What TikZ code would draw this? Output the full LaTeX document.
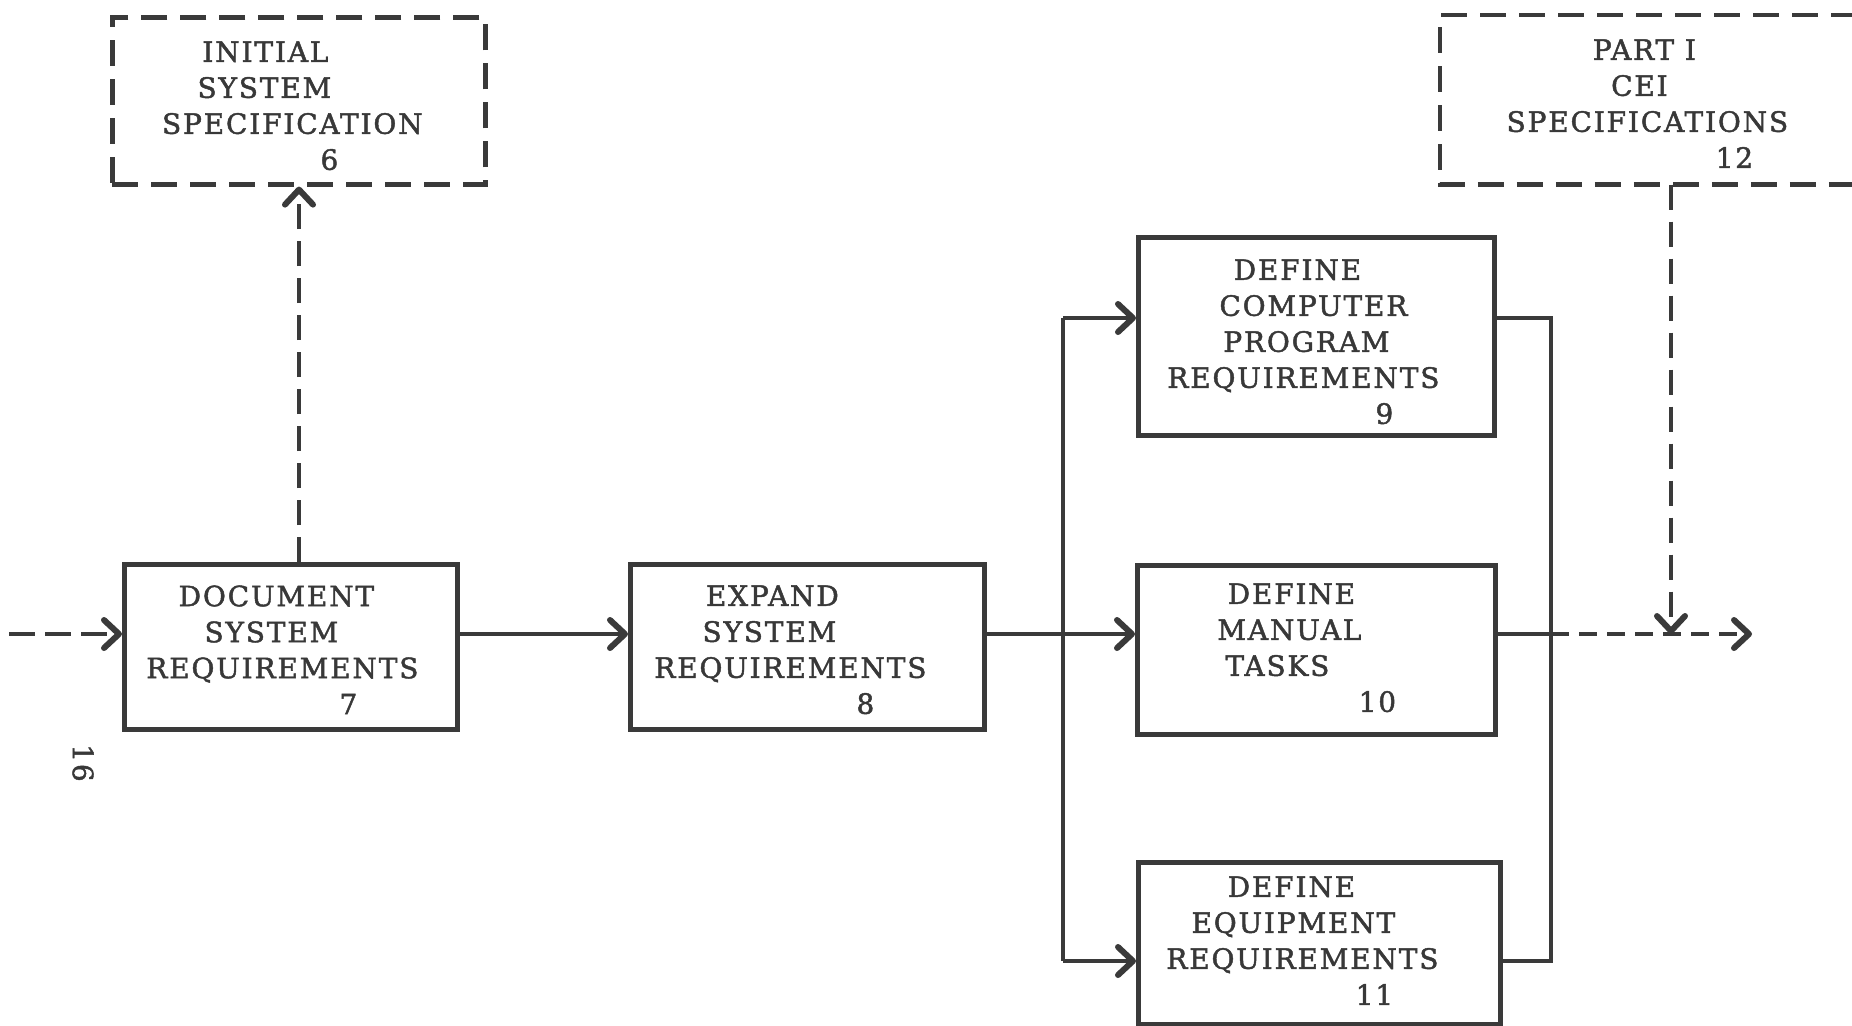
\documentclass[tikz,border=0pt]{standalone}
\usepackage{fontspec}
\setmainfont{DejaVu Serif}[LetterSpace=6.5, FakeBold=1.6]
\usetikzlibrary{arrows.meta}
\definecolor{ink}{HTML}{3A3A3A}
\definecolor{typeink}{HTML}{383838}
% a word centred at a given distance (pt) from the left edge of its text block
\newcommand{\wordat}[2]{\hspace*{#1pt}\makebox[0pt]{#2}}

\begin{document}
\begin{tikzpicture}[x=0.5pt,y=-0.5pt,
  solidbox/.style={draw=ink, line width=2.3pt, rectangle, inner sep=0pt, anchor=north west},
  dashbox/.style={solidbox, dash pattern=on 13pt off 6.5pt},
  boxtext/.style={text=typeink, inner sep=0pt, anchor=north west, align=left,
                  font=\fontsize{14}{18}\selectfont},
  barb/.style={-{Straight Barb[length=7.5pt,width=14pt,line width=3pt,round]}},
  link/.style={draw=ink, line width=2.3pt},
  linkarrow/.style={link, barb},
  dashlink/.style={link, barb, dash pattern=on 12.5pt off 6pt},
  finelink/.style={link, barb, dash pattern=on 9pt off 5pt},
]
\useasboundingbox (0,0) rectangle (1852,1025);
\fill[white] (0,0) rectangle (1852,1025);

% ---- boxes ----
\node[dashbox, minimum width=186.5pt, minimum height=83.5pt] (b6) at (110,15) {};
\node[solidbox, draw=none, minimum width=206pt, minimum height=82.5pt] (b12) at (1440,15) {};
\draw[ink, line width=2.3pt, dash pattern=on 13pt off 6.5pt]
  (b12.north east) -- (b12.north west) -- (b12.south west) -- (b12.south east);
\node[solidbox, minimum width=166.5pt, minimum height=82.5pt] (b7) at (122,562) {};
\node[solidbox, minimum width=177pt, minimum height=82.5pt] (b8) at (628,562) {};
\node[solidbox, minimum width=178pt, minimum height=99pt] (b9) at (1136,235) {};
\node[solidbox, minimum width=179pt, minimum height=84.5pt] (b10) at (1135,563) {};
\node[solidbox, minimum width=181pt, minimum height=81pt] (b11) at (1136,860) {};

% ---- box texts ----
\node[boxtext] (t6) at (110,41)
  {\wordat{77.5}{INITIAL}\\\wordat{77}{SYSTEM}\\\wordat{91}{SPECIFICATION}\\\wordat{109.5}{6}};
\node[boxtext] (t12) at (1440,39)
  {\wordat{102}{PART I}\\\wordat{99.5}{CEI}\\\wordat{103.5}{SPECIFICATIONS}\\\wordat{147}{12}};
\node[boxtext] (t7) at (122,585)
  {\wordat{77}{DOCUMENT}\\\wordat{74.5}{SYSTEM}\\\wordat{80}{REQUIREMENTS}\\\wordat{113}{7}};
\node[boxtext] (t8) at (628,585)
  {\wordat{72}{EXPAND}\\\wordat{70.5}{SYSTEM}\\\wordat{81}{REQUIREMENTS}\\\wordat{118.5}{8}};
\node[boxtext] (t9) at (1136,259)
  {\wordat{80.5}{DEFINE}\\\wordat{88.5}{COMPUTER}\\\wordat{85}{PROGRAM}\\\wordat{83.5}{REQUIREMENTS}\\\wordat{124}{9}};
\node[boxtext] (t10) at (1135,583)
  {\wordat{78}{DEFINE}\\\wordat{77}{MANUAL}\\\wordat{71}{TASKS}\\\wordat{121}{10}};
\node[boxtext] (t11) at (1136,876)
  {\wordat{77.5}{DEFINE}\\\wordat{78.5}{EQUIPMENT}\\\wordat{83}{REQUIREMENTS}\\\wordat{119}{11}};

% page number
\node[text=typeink, inner sep=0pt, rotate=-90, font=\fontsize{14}{18}\selectfont] (pg) at (83,763) {16};

% ---- connection points ----
\coordinate (in) at (9,634);
\coordinate (jl) at (1063,634);
\coordinate (jr) at (1551,634);
\coordinate (out) at (1752,634);
\coordinate (r9) at (1300,318);
\coordinate (r11) at (1300,961);
\coordinate (up) at (299,0);
\coordinate (drop) at (1671,634);

% ---- main flow ----
\draw[link, barb, dash pattern=on 13pt off 5pt] (in) -- (in -| b7.west);
\draw[linkarrow] (b7.east |- in) -- (b8.west |- in);
\draw[linkarrow] (b8.east |- in) -- (b10.west |- in);

% fan-out to the three parallel tasks
\draw[link] (jl |- r9) -- (jl |- r11);
\draw[linkarrow] (jl |- r9) -- (b9.west |- r9);
\draw[linkarrow] (jl |- r11) -- (b11.west |- r11);

% fan-in
\draw[link, line join=miter] (b9.east |- r9) -- (jr |- r9) -- (jr |- r11) -- (b11.east |- r11);
\draw[link] (b10.east |- jr) -- (jr);
\draw[finelink] (jr) -- (out);

% specification links
\draw[dashlink] (b7.north -| up) -- (b6.south -| up);
\draw[dashlink] (b12.south -| drop) -- (drop);
\end{tikzpicture}
\end{document}
